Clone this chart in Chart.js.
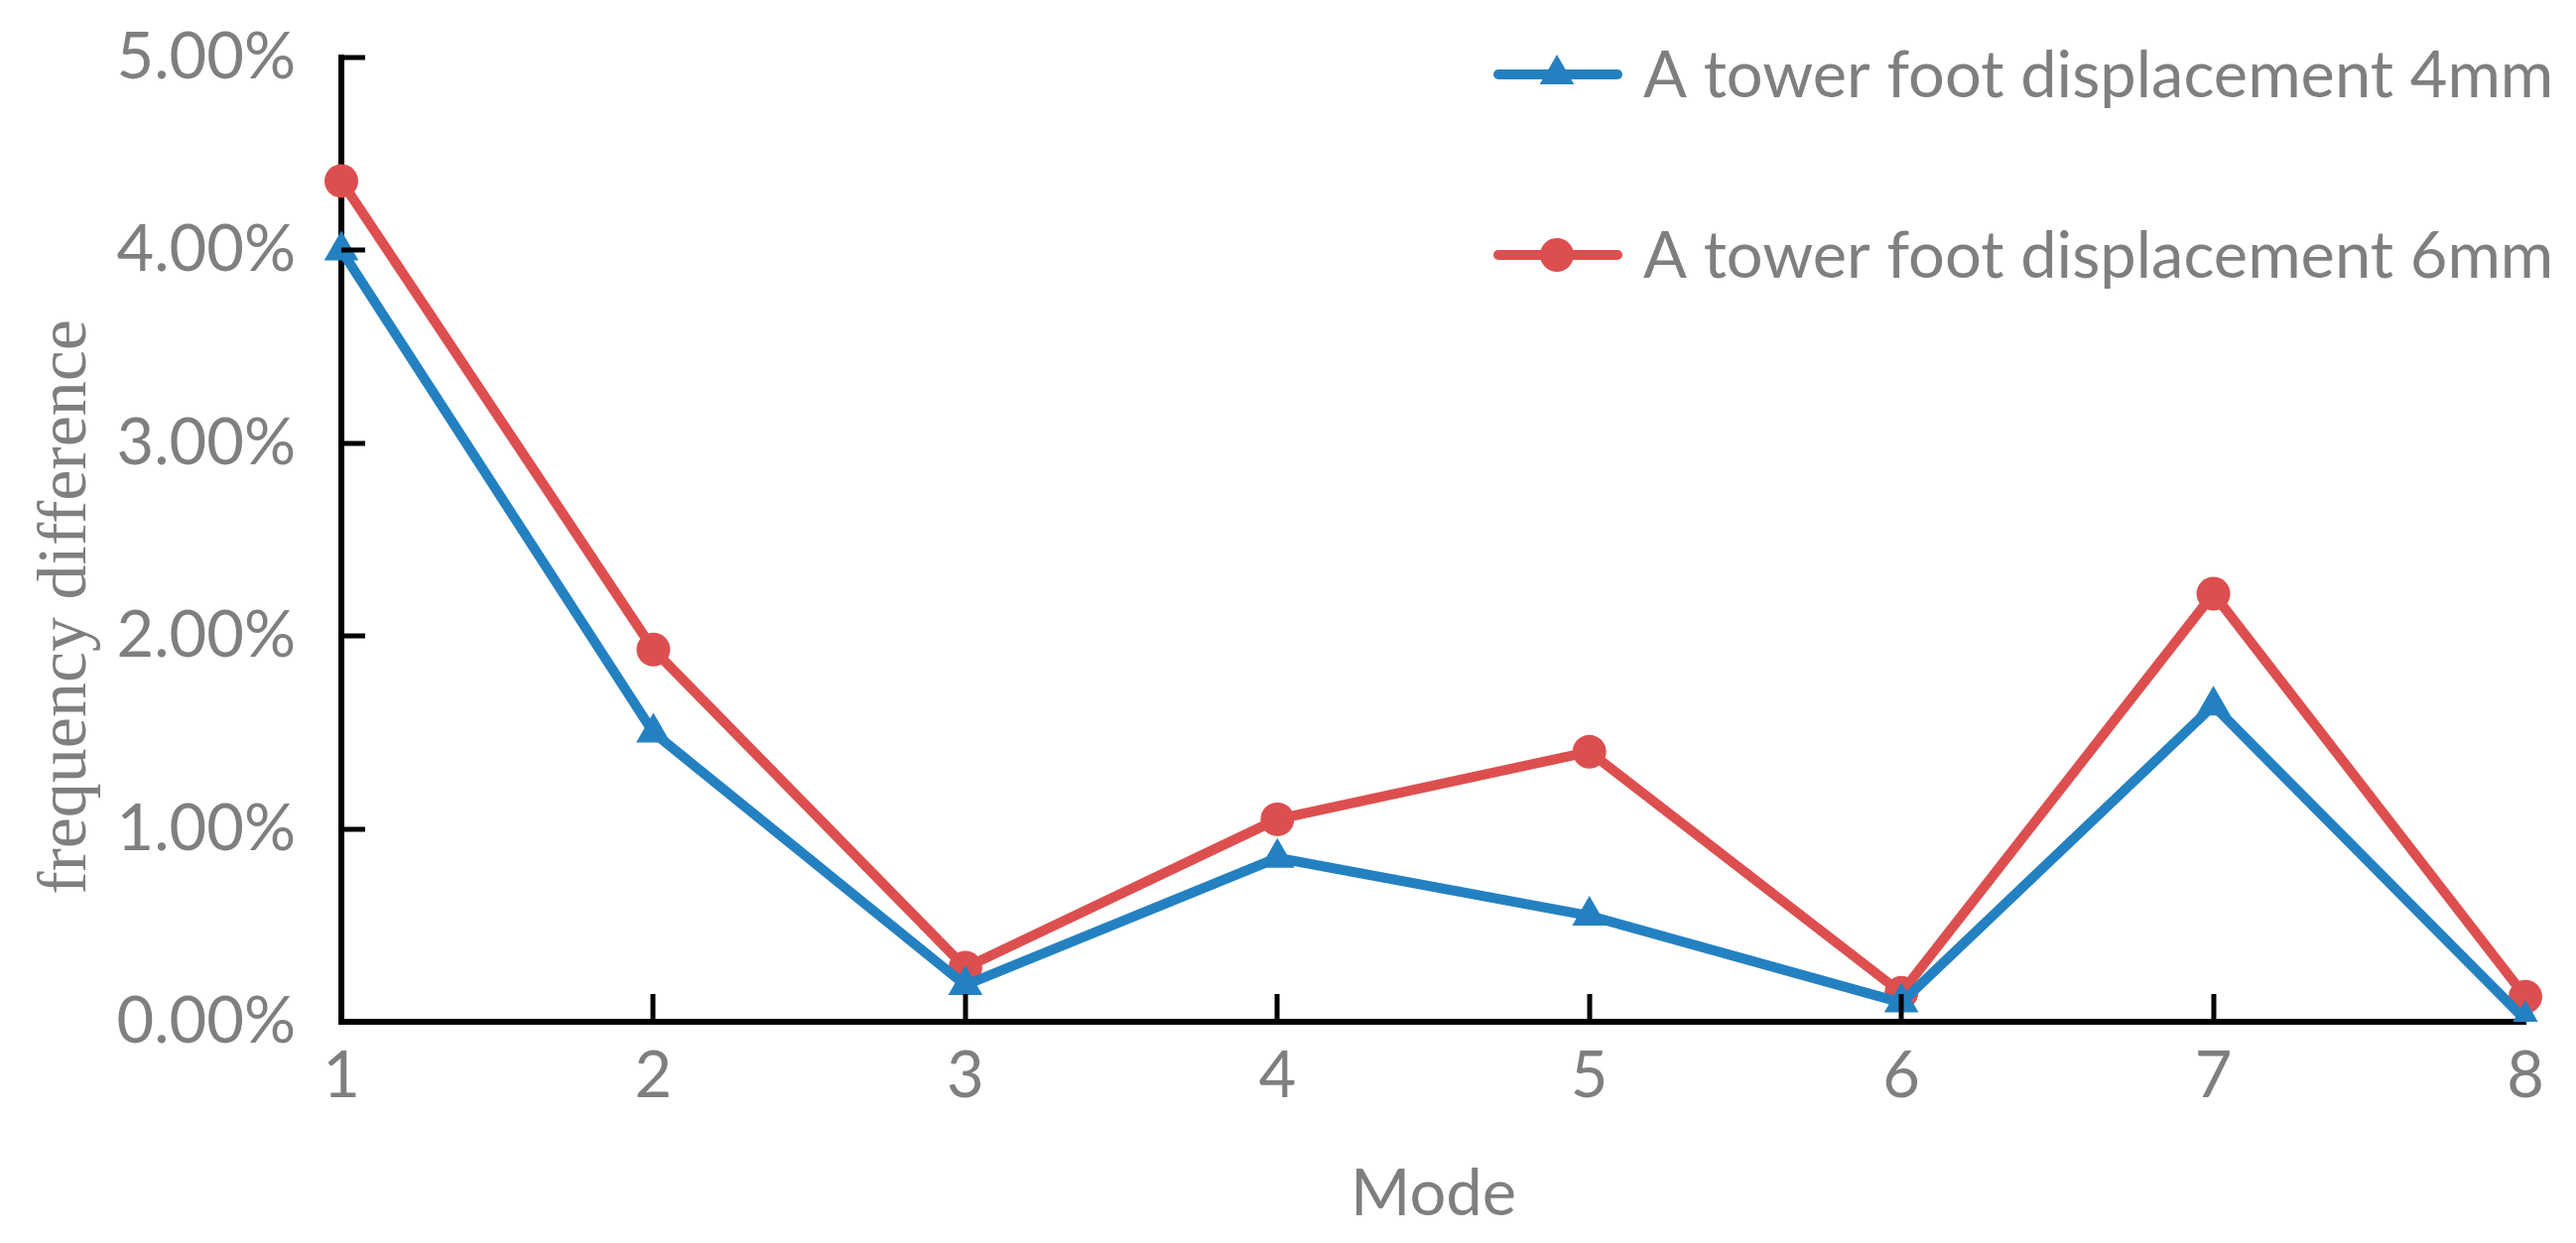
<!DOCTYPE html>
<html>
<head>
<meta charset="utf-8">
<script src="https://cdn.jsdelivr.net/npm/chart.js@4.4.1/dist/chart.umd.min.js"></script>
<style>
  html, body { margin: 0; padding: 0; background: #ffffff; }
  #wrap { width: 2596px; height: 1253px; position: relative; }
</style>
</head>
<body>
<div id="wrap"><canvas id="modeChart"></canvas></div>
<script>
// data (percent)
const modes = ['1', '2', '3', '4', '5', '6', '7', '8'];
const disp4mm = [4.00, 1.50, 0.19, 0.85, 0.55, 0.10, 1.64, 0.01];
const disp6mm = [4.36, 1.93, 0.28, 1.05, 1.40, 0.15, 2.22, 0.13];
const seriesNames = ['A tower foot displacement 4mm', 'A tower foot displacement 6mm'];
const yTitle = 'frequency difference';

const blue = '#2481c1';
const red = '#dd4f4f';
const grey = '#7f7f7f';
const tickFont = "Lato, 'Open Sans', sans-serif";
const serifFont = "'Liberation Serif', 'DejaVu Serif', serif";

// short tick marks drawn inside the plot, like the original
const innerTicks = {
    id: 'innerTicks',
    afterDraw(chart) {
        const ctx = chart.ctx;
        const x = chart.scales.x, y = chart.scales.y;
        ctx.save();
        ctx.strokeStyle = '#000';
        ctx.lineWidth = 5;
        y.ticks.forEach(t => {
            if (t.value <= 0) return;
            const py = Math.round(y.getPixelForValue(t.value));
            ctx.beginPath();
            ctx.moveTo(x.left, py);
            ctx.lineTo(x.left + 24, py);
            ctx.stroke();
        });
        x.ticks.forEach((t, i) => {
            if (i === 0 || i === x.ticks.length - 1) return;
            const px = Math.round(x.getPixelForTick(i));
            ctx.beginPath();
            ctx.moveTo(px, y.bottom);
            ctx.lineTo(px, y.bottom - 28);
            ctx.stroke();
        });
        ctx.restore();
    }
};

// y title sits a bit below the middle of the axis in the original
const sideTitle = {
    id: 'sideTitle',
    afterDraw(chart) {
        const ctx = chart.ctx;
        ctx.save();
        ctx.translate(68, 612);
        ctx.rotate(-Math.PI / 2);
        ctx.fillStyle = grey;
        ctx.font = '70px ' + serifFont;
        ctx.textAlign = 'center';
        ctx.textBaseline = 'middle';
        ctx.fillText(yTitle, 0, 0);
        ctx.restore();
    }
};

// legend in the top right corner, two rows
const cornerLegend = {
    id: 'cornerLegend',
    afterDraw(chart) {
        const ctx = chart.ctx;
        const rows = [75, 257];
        ctx.save();
        chart.data.datasets.forEach((ds, i) => {
            const cy = rows[i];
            ctx.strokeStyle = ds.borderColor;
            ctx.lineWidth = ds.borderWidth;
            ctx.lineCap = 'round';
            ctx.beginPath();
            ctx.moveTo(1510, cy);
            ctx.lineTo(1630, cy);
            ctx.stroke();
            ctx.fillStyle = ds.pointBackgroundColor;
            Chart.helpers.drawPoint(ctx, {
                pointStyle: ds.pointStyle,
                radius: ds.pointRadius,
                rotation: 0,
                borderWidth: 0
            }, 1569, cy);
            ctx.fillStyle = grey;
            ctx.font = '65px ' + tickFont;
            ctx.textBaseline = 'middle';
            ctx.textAlign = 'left';
            ctx.fillText(ds.label, 1656, cy + 2);
        });
        ctx.restore();
    }
};

new Chart(document.getElementById('modeChart'), {
    type: 'line',
    data: {
        labels: modes,
        datasets: [{
            label: seriesNames[0],
            data: disp4mm,
            borderColor: blue,
            backgroundColor: blue,
            pointBackgroundColor: blue,
            pointBorderWidth: 0,
            pointStyle: 'triangle',
            pointRadius: 20,
            borderWidth: 10,
            tension: 0
        }, {
            label: seriesNames[1],
            data: disp6mm,
            borderColor: red,
            backgroundColor: red,
            pointBackgroundColor: red,
            pointBorderWidth: 0,
            pointStyle: 'circle',
            pointRadius: 17,
            borderWidth: 10,
            tension: 0
        }]
    },
    options: {
        responsive: true,
        maintainAspectRatio: false,
        animation: false,
        layout: { padding: { top: 58, right: 51, left: 0, bottom: 0 } },
        plugins: {
            legend: { display: false },
            tooltip: { enabled: false }
        },
        scales: {
            x: {
                type: 'category',
                offset: false,
                grid: { display: false, drawTicks: false },
                border: { display: true, color: '#000', width: 6 },
                ticks: {
                    color: grey,
                    padding: 16,
                    maxRotation: 0,
                    font: { size: 65, family: tickFont }
                },
                title: {
                    display: true,
                    text: 'Mode',
                    color: grey,
                    padding: { top: 0, bottom: 10 },
                    font: { size: 65, family: tickFont }
                },
                afterFit(scale) {
                    scale.height = 223;
                    scale.paddingLeft = 0;
                    scale.paddingRight = 0;
                }
            },
            y: {
                min: 0,
                max: 5,
                grid: { display: false, drawTicks: false },
                border: { display: true, color: '#000', width: 6 },
                ticks: {
                    stepSize: 1,
                    color: grey,
                    padding: 46,
                    font: { size: 65, family: tickFont },
                    callback: v => v.toFixed(2) + '%'
                },
                title: { display: false },
                afterFit(scale) {
                    scale.width = 344;
                    scale.paddingTop = 0;
                    scale.paddingBottom = 0;
                }
            }
        }
    },
    plugins: [innerTicks, sideTitle, cornerLegend]
});
</script>
</body>
</html>
